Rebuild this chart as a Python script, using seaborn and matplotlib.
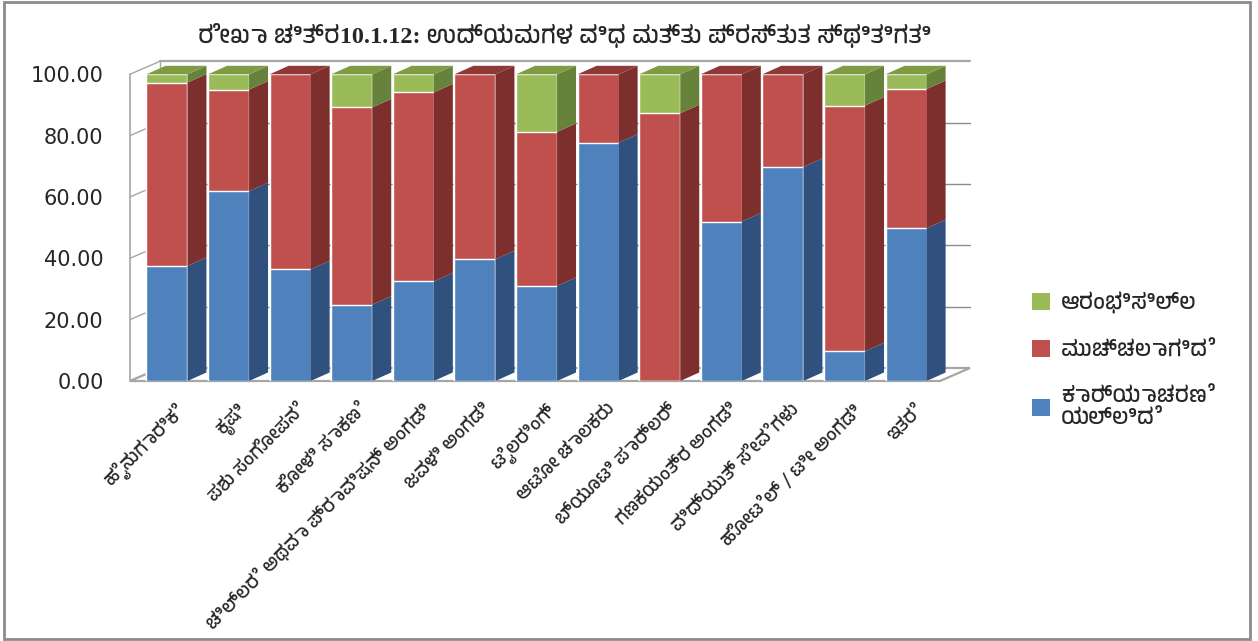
import pandas as pd
import seaborn as sns
import numpy as np
import matplotlib.pyplot as plt
from matplotlib import font_manager
from matplotlib.patches import Polygon, Patch, Rectangle
from matplotlib.transforms import ScaledTranslation

# categories (x axis) and the three stacked series, in percent
categories = ['ಹೈನುಗಾರಿಕೆ', 'ಕೃಷಿ', 'ಪಶು ಸಂಗೋಪನೆ', 'ಕೋಳಿ ಸಾಕಣೆ',
              'ಚಿಲ್ಲರೆ ಅಥವಾ ಪ್ರಾವಿಷನ್ ಅಂಗಡಿ', 'ಜವಳಿ ಅಂಗಡಿ', 'ಟೈಲರಿಂಗ್',
              'ಆಟೋ ಚಾಲಕರು', 'ಬ್ಯೂಟಿ ಪಾರ್ಲರ್', 'ಗಣಕಯಂತ್ರ ಅಂಗಡಿ',
              'ವಿದ್ಯುತ್ ಸೇವೆಗಳು', 'ಹೋಟೆಲ್ / ಟೀ ಅಂಗಡಿ', 'ಇತರೆ']
operating = [37.5, 61.9, 36.4, 24.9, 32.5, 39.7, 31.0, 77.7, 0.0, 52.0, 69.8, 9.7, 49.8]
closed = [59.8, 33.1, 63.6, 64.3, 61.6, 60.3, 50.2, 22.3, 87.3, 48.0, 30.2, 80.1, 45.4]
not_started = [2.7, 5.0, 0.0, 10.8, 5.9, 0.0, 18.8, 0.0, 12.7, 0.0, 0.0, 10.2, 4.8]

series_names = ['ಆರಂಭಿಸಿಲ್ಲ', 'ಮುಚ್ಚಲಾಗಿದೆ', 'ಕಾರ್ಯಾಚರಣೆ\nಯಲ್ಲಿದೆ']
title = 'ರೇಖಾ ಚಿತ್ರ10.1.12: ಉದ್ಯಮಗಳ ವಿಧ ಮತ್ತು ಪ್ರಸ್ತುತ ಸ್ಥಿತಿಗತಿ'
yticks = [0, 20, 40, 60, 80, 100]

# front / side / top colours for green, red, blue
green = ('#9BBB59', '#67823A', '#7F9C45')
red = ('#C0504D', '#7D2F2D', '#8E3936')
blue = ('#4F81BD', '#30517D', '#3B6596')


def find_kannada_font():
    # look for installed fonts with Kannada glyphs, prefer proper Kannada faces
    try:
        from fontTools.ttLib import TTFont
    except ImportError:
        return None
    found = []
    for f in font_manager.fontManager.ttflist:
        try:
            tt = TTFont(f.fname, fontNumber=0, lazy=True)
            cmap = tt.getBestCmap()
            if cmap and 0x0C95 in cmap:
                name = f.name
                score = 1
                if 'kannada' in name.lower():
                    score = 0
                elif 'mono' in name.lower() or 'unifont' in name.lower():
                    score = 2
                found.append((score, name))
        except Exception:
            pass
    if not found:
        return None
    found.sort()
    return found[0][1]


sns.set_theme(style='white')
kan = find_kannada_font()
fams = [kan, 'DejaVu Sans'] if kan else ['DejaVu Sans']
plt.rcParams['font.family'] = fams

df = pd.DataFrame({'cat': categories, 'op': operating, 'cl': closed, 'ns': not_started})
df['op_cl'] = df['op'] + df['cl']
df['total'] = df['op_cl'] + df['ns']

fig = plt.figure(figsize=(12.58, 6.41), dpi=100)
ax = fig.add_axes([130 / 1258, 1 - 381 / 641, 810 / 1258, 306.7 / 641])

W = 0.666
# stacked bars, drawn tallest first
sns.barplot(data=df, x='cat', y='total', color=green[0], width=W, saturation=1, ax=ax, zorder=3)
sns.barplot(data=df, x='cat', y='op_cl', color=red[0], width=W, saturation=1, ax=ax, zorder=3)
sns.barplot(data=df, x='cat', y='op', color=blue[0], width=W, saturation=1, ax=ax, zorder=3)

XL, XR = -0.6, 12.55
ax.set_xlim(XL, XR)
ax.set_ylim(0, 100)

# bar depth (side and top faces)
dx, dy = 0.308, 2.77
for i in range(len(categories)):
    xr = i + W / 2
    xl = i - W / 2
    segs = [(0, operating[i], blue), (operating[i], operating[i] + closed[i], red),
            (operating[i] + closed[i], operating[i] + closed[i] + not_started[i], green)]
    top_col = None
    for b, t, col in segs:
        if t - b <= 0:
            continue
        ax.add_patch(Polygon([(xr, b), (xr + dx, b + dy), (xr + dx, t + dy), (xr, t)],
                             closed=True, fc=col[1], ec='none', zorder=3, clip_on=False))
        top_col = col[2]
        T = t
    ax.add_patch(Polygon([(xl, T), (xl + dx, T + dy), (xr + dx, T + dy), (xr, T)],
                         closed=True, fc=top_col, ec='none', zorder=3, clip_on=False))

# walls and floor
DX, DY = 0.487, 4.24
wall = '#A6A6A6'
ax.add_patch(Polygon([(XL, 0), (XR, 0), (XR + DX, DY), (XL + DX, DY)], closed=True,
                     fc='white', ec=wall, lw=1.6, zorder=1, clip_on=False))
ax.plot([XL, XL], [0, 100], color=wall, lw=1.2, zorder=1, clip_on=False)
ax.plot([XL + DX, XL + DX], [DY, 100 + DY], color=wall, lw=1.0, zorder=1, clip_on=False)
for v in yticks:
    ax.plot([XL, XL + DX], [v, v + DY], color=wall, lw=1.0, zorder=1, clip_on=False)
    if 0 < v < 100:
        ax.plot([XL + DX, XR + DX], [v + DY, v + DY], color='#8C8C8C', lw=1.0, zorder=1, clip_on=False)
ax.plot([XL + DX, XR + DX], [100 + DY, 100 + DY], color=wall, lw=1.6, zorder=1, clip_on=False)

for s in ax.spines.values():
    s.set_visible(False)
ax.set_xlabel('')
ax.set_ylabel('')
ax.set_yticks(yticks)
ax.set_yticklabels([f'{v:.2f}' for v in yticks], fontsize=15, family=['DejaVu Sans'])
ax.tick_params(axis='y', length=0, pad=19)
ax.tick_params(axis='x', length=0, pad=14)
ax.set_xticks(range(len(categories)))
ax.set_xticklabels(categories, rotation=45, ha='right', rotation_mode='anchor',
                   fontsize=13.5, fontweight='bold')
off = ScaledTranslation(8 / 100, 0, fig.dpi_scale_trans)
for lab in ax.get_xticklabels():
    lab.set_transform(lab.get_transform() + off)

title_fams = ['Liberation Serif'] + ([kan] if kan else []) + ['DejaVu Sans']
fig.text(565 / 1258, 1 - 35 / 641, title, ha='center', va='center',
         fontsize=17.5, fontweight='bold', family=title_fams)

handles = [Patch(fc=green[0], ec='none'), Patch(fc=red[0], ec='none'), Patch(fc=blue[0], ec='none')]
fig.legend(handles, series_names, loc='center left', bbox_to_anchor=(1012 / 1258, 1 - 360 / 641),
           frameon=False, fontsize=16, handlelength=0.8, handleheight=0.8,
           labelspacing=1.2, handletextpad=0.5)

fig.patches.append(Rectangle((4 / 1258, 2 / 641), 1246 / 1258, 637 / 641, transform=fig.transFigure,
                             fill=False, ec='#8C8C8C', lw=2))

fig.savefig('out.png', dpi=100)
